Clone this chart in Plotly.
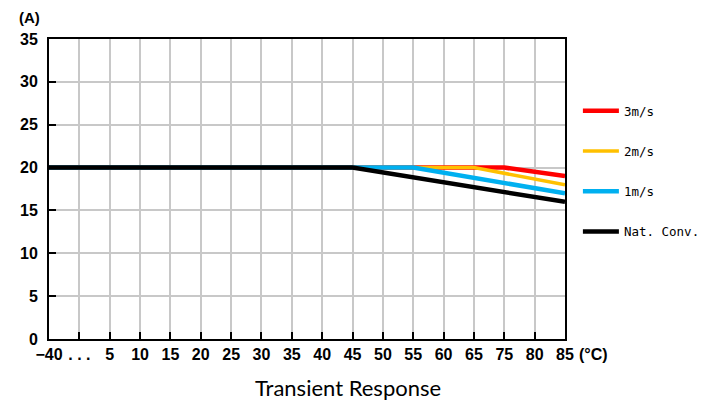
import plotly.graph_objects as go

categories = ["−40", ". . .", "5", "10", "15", "20", "25", "30", "35", "40",
              "45", "50", "55", "60", "65", "75", "80", "85"]

series_names = ["3m/s", "2m/s", "1m/s", "Nat. Conv."]
series_colors = ["#ff0000", "#ffc000", "#00b0f0", "#000000"]
x_3ms = ["−40", "75", "85"]
y_3ms = [20, 20, 19]
x_2ms = ["−40", "65", "85"]
y_2ms = [20, 20, 18]
x_1ms = ["−40", "55", "85"]
y_1ms = [20, 20, 17]
x_nat = ["−40", "45", "85"]
y_nat = [20, 20, 16]

y_ticks = [0, 5, 10, 15, 20, 25, 30, 35]

fig = go.Figure()
for name, color, xs, ys, w in zip(series_names, series_colors,
                                  [x_3ms, x_2ms, x_1ms, x_nat],
                                  [y_3ms, y_2ms, y_1ms, y_nat],
                                  [4.5, 3.5, 4.5, 4.5]):
    fig.add_trace(go.Scatter(x=xs, y=ys, mode="lines", name=name,
                             legendgroup=name,
                             line=dict(color=color, width=w)))

tick_font = dict(family="Liberation Sans", size=16, color="#000000", weight="bold")

# The page body adds an 8px offset, so the figure is 710x398 with margins adjusted
fig.update_layout(
    width=710, height=398,
    margin=dict(l=38, r=153, t=31, b=67),
    paper_bgcolor="#ffffff", plot_bgcolor="#ffffff",
    showlegend=True,
    legend=dict(x=1.025, xanchor="left", y=0.81, yanchor="top",
                tracegroupgap=21, itemwidth=36,
                font=dict(family="DejaVu Sans Mono", size=12.5, color="#000000"),
                bgcolor="rgba(0,0,0,0)", borderwidth=0),
    xaxis=dict(type="category", categoryorder="array", categoryarray=categories,
               tickvals=categories, ticktext=categories,
               range=[0, len(categories) - 1],
               showgrid=True, gridcolor="#c8c8c8", gridwidth=1.5,
               showline=True, linecolor="#000000", linewidth=2, mirror=True,
               ticks="inside", ticklen=7, tickcolor="#000000", tickwidth=1.5,
               tickfont=tick_font, zeroline=False),
    yaxis=dict(range=[0, 35], tickvals=y_ticks,
               showgrid=True, gridcolor="#c8c8c8", gridwidth=1.5,
               showline=True, linecolor="#000000", linewidth=2, mirror=True,
               ticks="inside", ticklen=7, tickcolor="#000000", tickwidth=1.5,
               ticklabelstandoff=6,
               tickfont=tick_font, zeroline=False),
    annotations=[
        dict(text="(A)", xref="paper", yref="paper", x=-0.037, y=1.07,
             xanchor="center", yanchor="middle", showarrow=False,
             font=dict(family="Liberation Sans", size=15, color="#000000", weight="bold")),
        dict(text="(°C)", xref="paper", yref="paper", x=1.024, y=-0.053,
             xanchor="left", yanchor="middle", showarrow=False,
             font=dict(family="Liberation Sans", size=16, color="#000000", weight="bold")),
        dict(text="Transient Response", xref="paper", yref="paper", x=0.58, y=-0.16,
             xanchor="center", yanchor="middle", showarrow=False,
             font=dict(family="Lato", size=22, color="#000000")),
    ],
)

fig.write_html("out.html")
